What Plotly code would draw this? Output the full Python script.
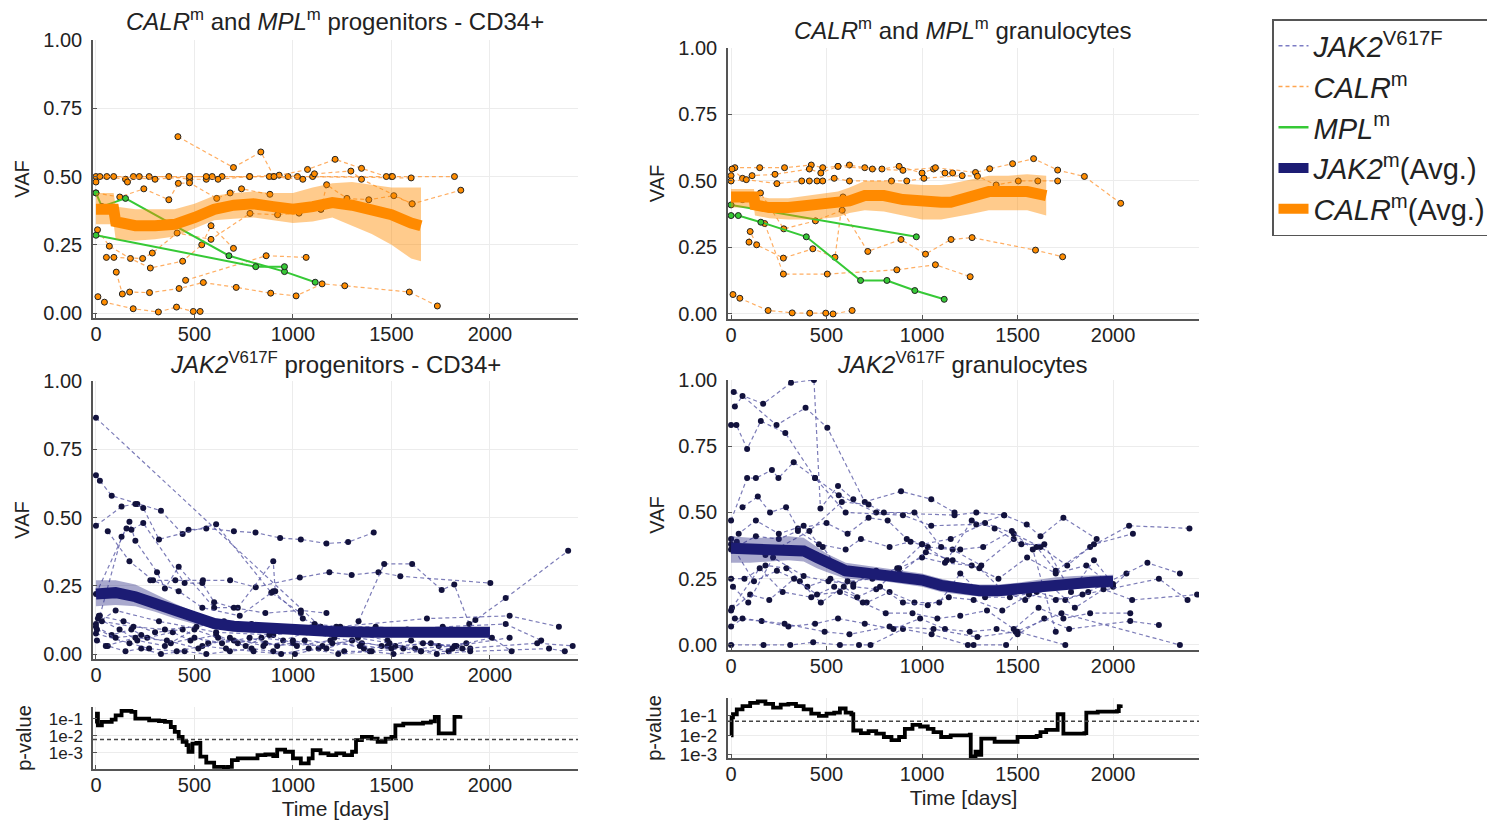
import numpy as np
import plotly.graph_objects as go

# ---------------------------------------------------------------------------
# Individual patient tracks: (days, VAF)
# ---------------------------------------------------------------------------
CALR_CD34_TRACKS = [
    ([0, 190, 270, 475, 590, 780, 930, 1023, 1500, 1820],
     [0.50, 0.50, 0.50, 0.50, 0.50, 0.50, 0.505, 0.50, 0.50, 0.50]),
    ([0, 55, 150, 160, 220, 370, 475, 560, 640, 900, 975, 1600],
     [0.48, 0.50, 0.49, 0.48, 0.50, 0.50, 0.49, 0.49, 0.50, 0.50, 0.50, 0.495]),
    ([20, 90, 300, 475, 560, 620, 780, 880, 1050, 1100],
     [0.50, 0.50, 0.49, 0.50, 0.50, 0.49, 0.50, 0.50, 0.49, 0.50]),
    ([416, 698, 837, 904, 1074, 1214, 1348, 1474, 1505],
     [0.646, 0.533, 0.59, 0.50, 0.526, 0.563, 0.53, 0.50, 0.50]),
    ([1109, 1294, 1348, 1605, 1852],
     [0.51, 0.52, 0.49, 0.40, 0.45]),
    ([0, 121, 243, 370, 418, 475, 613, 681, 739, 883],
     [0.44, 0.425, 0.455, 0.415, 0.475, 0.477, 0.42, 0.44, 0.455, 0.435]),
    ([1142, 1171, 1274, 1385, 1512, 1605],
     [0.38, 0.47, 0.42, 0.415, 0.43, 0.40]),
    ([8, 68, 175, 276, 440, 537, 584, 698],
     [0.305, 0.245, 0.20, 0.165, 0.19, 0.25, 0.32, 0.237]),
    ([53, 91, 237, 286, 412, 584, 782, 922, 1031, 1142],
     [0.204, 0.204, 0.20, 0.22, 0.293, 0.27, 0.365, 0.36, 0.366, 0.38]),
    ([103, 134, 171, 272, 422, 545, 712, 887, 1016, 1148, 1263, 1591, 1733],
     [0.15, 0.07, 0.077, 0.075, 0.09, 0.112, 0.094, 0.073, 0.063, 0.107, 0.10, 0.077, 0.026]),
    ([10, 43, 189, 317, 409, 494, 529],
     [0.06, 0.04, 0.016, 0.004, 0.022, 0.006, 0.006]),
    ([455, 864, 1067],
     [0.12, 0.21, 0.204]),
]

MPL_CD34_TRACKS = [
    ([0, 30, 150, 675, 957, 1113], [0.44, 0.39, 0.42, 0.21, 0.152, 0.113]),
    ([0, 811, 957], [0.285, 0.17, 0.17]),
]

CALR_GRAN_TRACKS = [
    ([0, 20, 150, 280, 420, 480, 560, 620, 700, 790, 880, 1000, 1060, 1120, 1160],
     [0.52, 0.55, 0.55, 0.55, 0.56, 0.55, 0.555, 0.56, 0.55, 0.545, 0.555, 0.53, 0.545, 0.53, 0.53]),
    ([5, 60, 110, 230, 410, 470, 560, 740, 900, 1070, 1280, 1354, 1474, 1584, 1710, 1850, 2040],
     [0.545, 0.51, 0.52, 0.525, 0.545, 0.53, 0.555, 0.545, 0.54, 0.55, 0.532, 0.546, 0.565, 0.584, 0.541, 0.517, 0.416]),
    ([0, 80, 240, 370, 410, 450, 480, 540, 620, 840, 920, 1010, 1210, 1290, 1388, 1504, 1606, 1710],
     [0.50, 0.505, 0.49, 0.50, 0.50, 0.50, 0.50, 0.51, 0.50, 0.50, 0.50, 0.51, 0.52, 0.518, 0.485, 0.50, 0.50, 0.50]),
    ([60, 154, 276, 442, 582, 716, 890, 1018, 1152, 1262, 1594, 1736],
     [0.43, 0.455, 0.32, 0.35, 0.39, 0.235, 0.28, 0.225, 0.28, 0.287, 0.24, 0.215]),
    ([94, 100, 134, 274, 428, 544, 586],
     [0.27, 0.31, 0.26, 0.21, 0.245, 0.213, 0.44]),
    ([176, 274, 504, 868, 1070, 1252],
     [0.34, 0.15, 0.15, 0.166, 0.185, 0.14]),
    ([10, 46, 194, 320, 412, 496, 534, 634],
     [0.073, 0.059, 0.013, 0.004, 0.003, 0.003, 0.0, 0.013]),
]

MPL_GRAN_TRACKS = [
    ([0, 970], [0.41, 0.29]),
    ([0, 38, 156, 394, 678, 816, 962, 1116], [0.37, 0.37, 0.345, 0.29, 0.126, 0.126, 0.088, 0.055]),
]

JAK2_CD34_TRACKS = [
    ([0, 1140, 1480], [0.865, 0.10, 0.05]),
    ([0, 20, 80, 210, 330, 440, 470, 560, 700, 810, 935, 1040, 1170, 1280, 1410],
     [0.655, 0.635, 0.58, 0.55, 0.525, 0.44, 0.455, 0.46, 0.45, 0.445, 0.425, 0.42, 0.405, 0.41, 0.445]),
    ([0, 130, 200, 240, 320, 610, 890, 1040],
     [0.47, 0.54, 0.55, 0.535, 0.42, 0.475, 0.225, 0.15]),
    ([276, 403, 543, 681, 811, 1035, 1185, 1298, 1434, 1545, 2002],
     [0.27, 0.27, 0.27, 0.27, 0.245, 0.28, 0.30, 0.29, 0.30, 0.285, 0.26]),
    ([1333, 1463, 1605, 1755, 1819, 1895, 1926, 2080, 2397],
     [0.12, 0.33, 0.33, 0.235, 0.255, 0.11, 0.125, 0.205, 0.378]),
    ([0, 170, 200, 310, 350, 420, 600, 720, 900, 910],
     [0.22, 0.485, 0.415, 0.30, 0.24, 0.32, 0.17, 0.17, 0.34, 0.23]),
    ([20, 130, 155, 180, 240, 450, 540, 600, 700, 860, 1040, 1170],
     [0.14, 0.43, 0.46, 0.455, 0.48, 0.26, 0.26, 0.19, 0.17, 0.15, 0.16, 0.15]),
    ([60, 170, 290, 420, 540, 730, 900, 1050, 1140],
     [0.45, 0.34, 0.27, 0.23, 0.17, 0.14, 0.23, 0.13, 0.10]),
    ([0, 100, 320, 610, 900, 1220, 1680, 2100, 2350],
     [0.11, 0.16, 0.12, 0.08, 0.07, 0.10, 0.13, 0.14, 0.10]),
    ([0, 80, 180, 260, 390, 480, 610, 720, 840, 950, 1070, 1210, 1350, 1480, 1600, 1740, 1880],
     [0.10, 0.07, 0.09, 0.06, 0.08, 0.05, 0.07, 0.04, 0.06, 0.05, 0.08, 0.06, 0.04, 0.03, 0.05, 0.03, 0.04]),
    ([5, 60, 150, 230, 330, 450, 560, 680, 790, 900, 1010, 1130, 1260, 1390, 1510, 1650, 1790, 1900],
     [0.05, 0.03, 0.01, 0.02, 0.00, 0.01, 0.00, 0.01, 0.02, 0.01, 0.00, 0.02, 0.01, 0.01, 0.00, 0.01, 0.01, 0.02]),
    ([10, 120, 210, 350, 500, 620, 760, 880, 1000, 1150, 1300, 1450, 1620, 1830, 2100],
     [0.13, 0.09, 0.05, 0.03, 0.09, 0.06, 0.03, 0.07, 0.04, 0.03, 0.05, 0.03, 0.02, 0.03, 0.06]),
    ([15, 140, 300, 440, 570, 700, 860, 1020, 1190, 1360, 1520, 1700, 1860, 2240, 2420],
     [0.14, 0.12, 0.08, 0.09, 0.04, 0.05, 0.04, 0.03, 0.05, 0.02, 0.03, 0.04, 0.02, 0.04, 0.03]),
    ([0, 170, 270, 410, 540, 660, 800, 940, 1080, 1230, 1400, 1560, 1730, 1900, 2300, 2380],
     [0.075, 0.04, 0.02, 0.01, 0.03, 0.02, 0.01, 0.00, 0.02, 0.00, 0.01, 0.02, 0.00, 0.01, 0.02, 0.01]),
    ([30, 190, 350, 510, 650, 790, 960, 1110, 1240, 1420, 1580, 1760, 2080, 2260],
     [0.12, 0.10, 0.09, 0.10, 0.12, 0.11, 0.09, 0.11, 0.10, 0.10, 0.09, 0.10, 0.11, 0.05]),
    ([5, 100, 230, 380, 500, 640, 780, 920, 1060, 1200, 1340, 1500, 1660, 1820, 2010, 2110],
     [0.09, 0.06, 0.07, 0.04, 0.06, 0.04, 0.06, 0.03, 0.05, 0.04, 0.03, 0.02, 0.04, 0.03, 0.06, 0.01]),
    ([50, 200, 360, 520, 680, 850, 1000, 1170, 1330, 1490, 1650, 1810],
     [0.03, 0.06, 0.05, 0.02, 0.06, 0.03, 0.05, 0.02, 0.06, 0.04, 0.01, 0.02]),
]

JAK2_GRAN_TRACKS = [
    ([14, 168, 314, 434, 468, 560, 640],
     [0.955, 0.91, 0.99, 1.0, 0.515, 0.60, 0.55]),
    ([20, 60, 238, 390, 504, 700, 890, 1048, 1170],
     [0.90, 0.94, 0.83, 0.895, 0.82, 0.54, 0.58, 0.55, 0.50]),
    ([0, 28, 84, 156, 284, 440, 564, 760, 1170, 1284, 1430],
     [0.83, 0.83, 0.74, 0.845, 0.80, 0.63, 0.565, 0.50, 0.49, 0.50, 0.49]),
    ([0, 84, 130, 214, 248, 328, 440, 600, 900, 1048, 1284, 1430, 1548, 1620, 1740, 1914],
     [0.47, 0.63, 0.63, 0.66, 0.63, 0.69, 0.63, 0.50, 0.49, 0.45, 0.455, 0.49, 0.455, 0.41, 0.48, 0.40]),
    ([60, 140, 204, 288, 350, 500, 610, 720, 820, 920, 1000, 1150, 1330, 1480, 1620, 1760, 1880, 2084, 2400],
     [0.52, 0.56, 0.50, 0.52, 0.44, 0.46, 0.42, 0.48, 0.47, 0.40, 0.38, 0.40, 0.46, 0.42, 0.37, 0.30, 0.37, 0.45, 0.44]),
    ([0, 40, 130, 250, 380, 460, 600, 680, 830, 940, 1030, 1160, 1310, 1480, 1600, 1700, 1900, 2104],
     [0.40, 0.42, 0.47, 0.42, 0.45, 0.38, 0.36, 0.40, 0.37, 0.39, 0.37, 0.36, 0.30, 0.40, 0.37, 0.28, 0.38, 0.42]),
    ([0, 70, 180, 290, 400, 520, 640, 760, 880, 1000, 1120, 1260, 1400, 1550, 1700, 1860, 2000, 2070],
     [0.25, 0.25, 0.30, 0.29, 0.22, 0.25, 0.22, 0.21, 0.29, 0.33, 0.31, 0.30, 0.25, 0.33, 0.27, 0.30, 0.22, 0.27]),
    ([0, 120, 240, 360, 470, 590, 710, 830, 960, 1090, 1200, 1330, 1460, 1600, 1750, 1870, 2180, 2350],
     [0.38, 0.24, 0.28, 0.24, 0.16, 0.22, 0.16, 0.20, 0.16, 0.16, 0.27, 0.18, 0.18, 0.20, 0.17, 0.20, 0.31, 0.27]),
    ([5, 150, 270, 420, 540, 660, 780, 900, 1030, 1140, 1270, 1420, 1560, 1700, 1840, 2240, 2390],
     [0.14, 0.29, 0.20, 0.18, 0.22, 0.18, 0.22, 0.16, 0.15, 0.18, 0.17, 0.13, 0.19, 0.17, 0.19, 0.25, 0.17]),
    ([0, 100, 200, 330, 450, 570, 690, 810, 950, 1080, 1200, 1340, 1480, 1610, 1740, 1880, 2090],
     [0.13, 0.19, 0.17, 0.25, 0.19, 0.20, 0.16, 0.12, 0.12, 0.10, 0.11, 0.13, 0.06, 0.14, 0.10, 0.12, 0.12]),
    ([20, 160, 300, 440, 560, 700, 850, 990, 1120, 1250, 1390, 1500, 1640, 1770, 2090, 2240],
     [0.10, 0.09, 0.07, 0.08, 0.10, 0.08, 0.06, 0.10, 0.06, 0.05, 0.06, 0.04, 0.10, 0.06, 0.09, 0.075]),
    ([0, 170, 310, 430, 570, 670, 730, 900, 1050, 1240, 1270, 1440, 1500, 1750],
     [0.0, 0.0, 0.0, 0.01, 0.0, 0.0, 0.0, 0.06, 0.04, 0.0, 0.0, 0.0, 0.05, 0.0]),
    ([10, 90, 220, 380, 510, 640, 760, 880, 1020, 1160, 1300, 1430, 1540, 1680, 1800, 1950, 2100, 2440],
     [0.22, 0.16, 0.33, 0.26, 0.24, 0.23, 0.28, 0.27, 0.35, 0.32, 0.29, 0.20, 0.17, 0.22, 0.14, 0.21, 0.17, 0.19]),
    ([0, 60, 280, 490, 620, 830, 1060, 1290, 1490, 1730, 2350],
     [0.07, 0.10, 0.08, 0.05, 0.04, 0.07, 0.06, 0.03, 0.05, 0.12, 0.0]),
    ([0, 130, 250, 350, 480, 610, 740, 870, 1000, 1130, 1260, 1380, 1520, 1640, 1780, 1900, 2000],
     [0.36, 0.41, 0.40, 0.43, 0.37, 0.24, 0.25, 0.29, 0.38, 0.32, 0.47, 0.44, 0.38, 0.38, 0.20, 0.32, 0.23]),
    ([30, 180, 410, 580, 720, 800, 960, 1100, 1200, 1320, 1470, 1580, 1700],
     [0.39, 0.34, 0.43, 0.54, 0.53, 0.50, 0.50, 0.37, 0.36, 0.37, 0.43, 0.36, 0.05]),
]

# ---------------------------------------------------------------------------
# Cohort averages with confidence bands
# ---------------------------------------------------------------------------
calr_cd34_avg_t = [0, 90, 100, 200, 300, 400, 500, 600, 700, 800, 900, 1000, 1100, 1200, 1300, 1400, 1500, 1600, 1650]
calr_cd34_avg = [0.38, 0.38, 0.335, 0.32, 0.32, 0.325, 0.35, 0.38, 0.395, 0.40, 0.39, 0.38, 0.39, 0.405, 0.395, 0.38, 0.36, 0.33, 0.32]
calr_cd34_lo = [0.325, 0.325, 0.27, 0.265, 0.27, 0.28, 0.31, 0.34, 0.345, 0.35, 0.34, 0.33, 0.335, 0.35, 0.32, 0.29, 0.25, 0.20, 0.19]
calr_cd34_hi = [0.44, 0.44, 0.39, 0.38, 0.38, 0.38, 0.40, 0.43, 0.44, 0.445, 0.44, 0.44, 0.46, 0.475, 0.48, 0.47, 0.46, 0.46, 0.46]

calr_gran_avg_t = [0, 120, 125, 200, 300, 400, 500, 560, 620, 700, 800, 900, 1000, 1100, 1150, 1250, 1350, 1450, 1550, 1650]
calr_gran_avg = [0.44, 0.44, 0.41, 0.40, 0.40, 0.405, 0.41, 0.412, 0.425, 0.445, 0.445, 0.43, 0.42, 0.42, 0.42, 0.44, 0.46, 0.46, 0.46, 0.445]
calr_gran_lo = [0.40, 0.40, 0.37, 0.36, 0.355, 0.355, 0.36, 0.365, 0.38, 0.39, 0.385, 0.37, 0.355, 0.355, 0.36, 0.375, 0.39, 0.39, 0.39, 0.37]
calr_gran_hi = [0.47, 0.47, 0.445, 0.435, 0.435, 0.445, 0.455, 0.46, 0.475, 0.50, 0.50, 0.49, 0.485, 0.485, 0.49, 0.505, 0.52, 0.52, 0.525, 0.52]

jak2_cd34_avg_t = [0, 100, 200, 300, 400, 500, 600, 700, 800, 900, 1000, 1200, 1400, 1600, 1800, 2000]
jak2_cd34_avg = [0.22, 0.225, 0.21, 0.185, 0.155, 0.13, 0.112, 0.102, 0.097, 0.093, 0.09, 0.083, 0.08, 0.077, 0.076, 0.08]
jak2_cd34_lo = [0.175, 0.18, 0.175, 0.155, 0.13, 0.11, 0.095, 0.087, 0.083, 0.08, 0.077, 0.07, 0.067, 0.064, 0.063, 0.065]
jak2_cd34_hi = [0.27, 0.27, 0.255, 0.22, 0.185, 0.155, 0.13, 0.118, 0.112, 0.107, 0.104, 0.097, 0.094, 0.092, 0.09, 0.095]

jak2_gran_avg_t = [0, 100, 200, 300, 380, 450, 500, 600, 700, 800, 900, 1000, 1100, 1200, 1300, 1400, 1500, 1600, 1700, 1800, 1900, 2000]
jak2_gran_avg = [0.365, 0.36, 0.355, 0.36, 0.355, 0.33, 0.31, 0.28, 0.272, 0.265, 0.255, 0.245, 0.225, 0.212, 0.205, 0.205, 0.212, 0.222, 0.232, 0.235, 0.238, 0.24]
jak2_gran_lo = [0.31, 0.31, 0.315, 0.32, 0.315, 0.29, 0.275, 0.25, 0.245, 0.24, 0.23, 0.22, 0.2, 0.19, 0.183, 0.183, 0.19, 0.2, 0.208, 0.212, 0.215, 0.215]
jak2_gran_hi = [0.41, 0.405, 0.405, 0.41, 0.405, 0.37, 0.345, 0.31, 0.3, 0.292, 0.282, 0.27, 0.25, 0.235, 0.228, 0.228, 0.235, 0.245, 0.256, 0.26, 0.262, 0.265]

# ---------------------------------------------------------------------------
# Running p-values (log10) comparing JAK2 vs CALR kinetics
# ---------------------------------------------------------------------------
pval_cd34_t = [0, 5, 10, 30, 60, 80, 100, 130, 160, 180, 200, 230, 270, 320, 350, 380, 400, 420, 440, 460, 470,
               490, 510, 530, 560, 600, 650, 670, 690, 720, 780, 820, 860, 900, 920, 960, 1000, 1040, 1080, 1100,
               1140, 1180, 1220, 1260, 1300, 1320, 1350, 1400, 1430, 1470, 1500, 1520, 1560, 1620, 1660, 1700,
               1720, 1740, 1810, 1820, 1850]
pval_cd34_log10 = [-1.29, -0.71, -1.39, -1.19, -1.19, -1.06, -0.81, -0.55, -0.55, -0.61, -1.0, -1.0, -1.10, -1.14,
                   -1.19, -1.49, -1.78, -2.07, -2.36, -2.55, -2.94, -2.46, -2.42, -3.23, -3.58, -3.82, -3.91, -3.82,
                   -3.43, -3.33, -3.33, -3.14, -3.10, -3.19, -2.81, -2.94, -3.33, -3.62, -3.33, -2.84, -3.04, -3.14,
                   -3.04, -3.14, -2.94, -2.26, -2.07, -2.17, -2.36, -2.17, -2.07, -1.39, -1.29, -1.29, -1.23, -1.16,
                   -0.90, -1.87, -1.87, -0.90, -0.81]

pval_gran_t = [0, 3, 10, 30, 60, 100, 140, 180, 220, 260, 300, 340, 380, 420, 460, 500, 540, 570, 600, 630, 640,
               680, 720, 760, 800, 840, 880, 910, 950, 990, 1030, 1060, 1100, 1150, 1200, 1250, 1255, 1280, 1300,
               1310, 1360, 1380, 1450, 1500, 1600, 1620, 1650, 1700, 1710, 1730, 1740, 1850, 1860, 1920, 2020,
               2030, 2040]
pval_gran_log10 = [-2.02, -1.11, -0.95, -0.70, -0.54, -0.38, -0.30, -0.43, -0.62, -0.46, -0.43, -0.54, -0.70, -0.92,
                   -1.03, -0.92, -0.87, -0.66, -0.87, -0.95, -1.77, -1.90, -1.80, -1.93, -2.10, -2.26, -2.10, -1.69,
                   -1.49, -1.57, -1.69, -1.85, -2.10, -2.02, -2.02, -1.98, -3.08, -2.84, -3.0, -2.18, -2.18, -2.34,
                   -2.34, -2.10, -2.05, -1.85, -1.74, -1.74, -0.95, -0.95, -1.93, -1.90, -0.87, -0.82, -0.79, -0.54,
                   -0.46]

pval_cd34_threshold = 0.006
pval_gran_threshold = 0.05

# ---------------------------------------------------------------------------
# Styling
# ---------------------------------------------------------------------------
FONT = "Liberation Sans, Arial, sans-serif"
W, H = 1487, 823

JAK2_LINE = "rgba(80,80,160,0.75)"
JAK2_DOT = "#12123d"
JAK2_AVG = "#1c1c74"
JAK2_BAND = "rgba(40,40,130,0.40)"
CALR_LINE = "rgba(255,160,70,0.85)"
CALR_DOT = "#ff8c00"
CALR_AVG = "#ff8a00"
CALR_BAND = "rgba(255,140,0,0.45)"
MPL_LINE = "#36c936"
DASH = "4px,3px"

fig = go.Figure()


def add_tracks(tracks, ax, line_color, dot_color, dot_line, dash, width=1.2, dot_size=6):
    for t, v in tracks:
        fig.add_trace(go.Scatter(
            x=t, y=v, mode="lines+markers", xaxis="x" + ax, yaxis="y" + ax,
            line=dict(color=line_color, width=width, dash=dash),
            marker=dict(color=dot_color, size=dot_size,
                        line=dict(color=dot_line or dot_color, width=1 if dot_line else 0)),
            showlegend=False, hoverinfo="skip",
        ))


def add_band(t, lo, hi, ax, color):
    fig.add_trace(go.Scatter(
        x=list(t) + list(t)[::-1], y=list(hi) + list(lo)[::-1], xaxis="x" + ax, yaxis="y" + ax,
        fill="toself", fillcolor=color, line=dict(width=0), mode="lines",
        showlegend=False, hoverinfo="skip",
    ))


def add_avg(t, v, ax, color):
    fig.add_trace(go.Scatter(
        x=t, y=v, xaxis="x" + ax, yaxis="y" + ax, mode="lines",
        line=dict(color=color, width=11), showlegend=False, hoverinfo="skip",
    ))


# Panel 1: CALR / MPL progenitors
add_tracks(CALR_CD34_TRACKS, "", CALR_LINE, CALR_DOT, "#222", DASH)
add_tracks(MPL_CD34_TRACKS, "", MPL_LINE, MPL_LINE, "#222", "solid", width=2)
add_band(calr_cd34_avg_t, calr_cd34_lo, calr_cd34_hi, "", CALR_BAND)
add_avg(calr_cd34_avg_t, calr_cd34_avg, "", CALR_AVG)

# Panel 2: CALR / MPL granulocytes
add_tracks(CALR_GRAN_TRACKS, "2", CALR_LINE, CALR_DOT, "#222", DASH)
add_tracks(MPL_GRAN_TRACKS, "2", MPL_LINE, MPL_LINE, "#222", "solid", width=2)
add_band(calr_gran_avg_t, calr_gran_lo, calr_gran_hi, "2", CALR_BAND)
add_avg(calr_gran_avg_t, calr_gran_avg, "2", CALR_AVG)

# Panel 3: JAK2 progenitors
add_tracks(JAK2_CD34_TRACKS, "3", JAK2_LINE, JAK2_DOT, None, DASH)
add_band(jak2_cd34_avg_t, jak2_cd34_lo, jak2_cd34_hi, "3", JAK2_BAND)
add_avg(jak2_cd34_avg_t, jak2_cd34_avg, "3", JAK2_AVG)

# Panel 4: JAK2 granulocytes
add_tracks(JAK2_GRAN_TRACKS, "4", JAK2_LINE, JAK2_DOT, None, DASH)
add_band(jak2_gran_avg_t, jak2_gran_lo, jak2_gran_hi, "4", JAK2_BAND)
add_avg(jak2_gran_avg_t, jak2_gran_avg, "4", JAK2_AVG)

# Panels 5/6: p-values
for t, lp, ax in [(pval_cd34_t, pval_cd34_log10, "5"), (pval_gran_t, pval_gran_log10, "6")]:
    fig.add_trace(go.Scatter(
        x=t, y=10 ** np.array(lp), xaxis="x" + ax, yaxis="y" + ax, mode="lines",
        line=dict(color="black", width=3.8, shape="hv"), showlegend=False, hoverinfo="skip",
    ))

for ax, thr in [("5", pval_cd34_threshold), ("6", pval_gran_threshold)]:
    fig.add_shape(type="line", xref="x" + ax + " domain", yref="y" + ax, x0=0, x1=1, y0=thr, y1=thr,
                  line=dict(color="#444", width=1.5, dash=DASH))

# Legend entries (line samples only)
legend_items = [
    ("<i>JAK2</i><sup>V617F</sup>", dict(color="rgba(110,110,190,0.9)", width=1.5, dash=DASH)),
    ("<i>CALR</i><sup>m</sup>", dict(color="rgba(255,160,70,0.95)", width=1.5, dash=DASH)),
    ("<i>MPL</i><sup>m</sup>", dict(color=MPL_LINE, width=2.5)),
    ("<i>JAK2</i><sup>m</sup>(Avg.)", dict(color=JAK2_AVG, width=12)),
    ("<i>CALR</i><sup>m</sup>(Avg.)", dict(color=CALR_AVG, width=12)),
]
for name, line in legend_items:
    fig.add_trace(go.Scatter(x=[None], y=[None], mode="lines", line=line, name=name, showlegend=True))

# ---------------------------------------------------------------------------
# Axes
# ---------------------------------------------------------------------------
def px_x(a, b):
    return [a / W, b / W]


def px_y(top, bottom):
    return [1 - bottom / H, 1 - top / H]


INK = "#222"
tick_font = dict(family=FONT, size=20, color=INK)
common_x = dict(tickvals=[0, 500, 1000, 1500, 2000], showgrid=True, gridcolor="#ececec", gridwidth=1,
                showline=True, linecolor="#555", linewidth=1.5, ticks="inside", ticklen=4, tickcolor="#555",
                zeroline=False, tickfont=tick_font, ticklabelstandoff=-3)
common_vaf = dict(tickvals=[0, 0.25, 0.5, 0.75, 1.0], ticktext=["0.00", "0.25", "0.50", "0.75", "1.00"],
                  showgrid=True, gridcolor="#ececec", gridwidth=1, showline=True, linecolor="#555",
                  linewidth=1.5, ticks="inside", ticklen=4, tickcolor="#555", zeroline=False,
                  tickfont=tick_font, ticklabelstandoff=5,
                  title=dict(text="VAF", font=dict(family=FONT, size=20, color=INK), standoff=8))
common_p = dict(type="log", tickvals=[1e-1, 1e-2, 1e-3], ticktext=["1e-1", "1e-2", "1e-3"],
                showgrid=True, gridcolor="#ececec", showline=True, linecolor="#555", linewidth=1.5,
                ticks="inside", ticklen=4, tickcolor="#555", zeroline=False,
                ticklabelstandoff=5,
                title=dict(text="p-value", font=dict(family=FONT, size=20, color=INK), standoff=12))
time_title = dict(text="Time [days]", font=dict(family=FONT, size=21, color=INK), standoff=7)

LEFT = px_x(93, 578)
RIGHT = px_x(728, 1199)
left_xr = [-15, 2447]
right_xr = [-16, 2450]

layout_axes = dict(
    xaxis=dict(common_x, domain=LEFT, range=left_xr, anchor="y"),
    yaxis=dict(common_vaf, domain=px_y(40, 318), range=[-0.018, 1.0], anchor="x"),
    xaxis2=dict(common_x, domain=RIGHT, range=right_xr, anchor="y2"),
    yaxis2=dict(common_vaf, domain=px_y(48, 319), range=[-0.019, 1.0], anchor="x2"),
    xaxis3=dict(common_x, domain=LEFT, range=left_xr, anchor="y3"),
    yaxis3=dict(common_vaf, domain=px_y(381, 659), range=[-0.018, 1.0], anchor="x3"),
    xaxis4=dict(common_x, domain=RIGHT, range=right_xr, anchor="y4"),
    yaxis4=dict(common_vaf, domain=px_y(380, 650), range=[-0.019, 1.0], anchor="x4"),
    xaxis5=dict(common_x, domain=LEFT, range=left_xr, anchor="y5", title=time_title),
    yaxis5=dict(common_p, domain=px_y(707, 769), range=[-3.95, -0.32], anchor="x5",
                tickfont=dict(family=FONT, size=17, color=INK)),
    xaxis6=dict(common_x, domain=RIGHT, range=right_xr, anchor="y6", title=time_title),
    yaxis6=dict(common_p, domain=px_y(698, 758), range=[-3.16, -0.13], anchor="x6",
                tickfont=dict(family=FONT, size=19, color=INK)),
)

titles = [
    ("<i>CALR</i><sup>m</sup> and <i>MPL</i><sup>m</sup> progenitors - CD34+", 335, 20),
    ("<i>CALR</i><sup>m</sup> and <i>MPL</i><sup>m</sup> granulocytes", 963, 29),
    ("<i>JAK2</i><sup>V617F</sup> progenitors - CD34+", 335, 363),
    ("<i>JAK2</i><sup>V617F</sup> granulocytes", 963, 363),
]
annotations = [
    dict(text=txt, x=cx / W, y=1 - cy / H, xref="paper", yref="paper", showarrow=False,
         xanchor="center", yanchor="middle", font=dict(family=FONT, size=24, color=INK))
    for txt, cx, cy in titles
]

fig.update_layout(
    width=W, height=H, margin=dict(l=0, r=0, t=0, b=0, autoexpand=False),
    paper_bgcolor="white", plot_bgcolor="white",
    font=dict(family=FONT, color=INK),
    annotations=annotations,
    legend=dict(x=1272 / W, y=1 - 19 / H, xanchor="left", yanchor="top",
                bordercolor="#555", borderwidth=1.5, bgcolor="white",
                font=dict(family=FONT, size=29, color=INK), itemwidth=30,
                tracegroupgap=0, traceorder="normal"),
    **layout_axes,
)

fig.write_html("out.html")
